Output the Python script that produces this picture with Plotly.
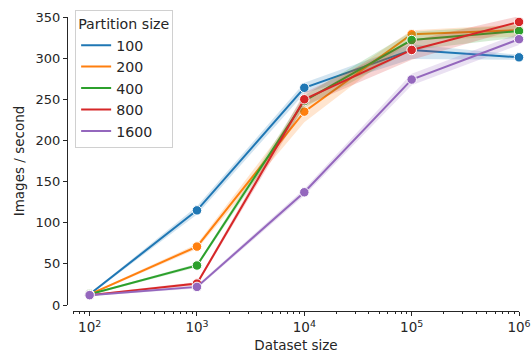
import plotly.graph_objects as go
import numpy as np

dataset_size = [100, 1000, 10000, 100000, 1000000]
partition_sizes = ["100", "200", "400", "800", "1600"]
colors = ["#1f77b4", "#ff7f0e", "#2ca02c", "#d62728", "#9467bd"]

mean_100 = [13, 115, 264, 310, 301]
lo_100 = [12, 110, 257, 299, 298]
hi_100 = [14, 120, 270, 317, 304]

mean_200 = [13, 71, 235, 329, 334]
lo_200 = [12, 68, 222, 322, 326]
hi_200 = [14, 74, 246, 334, 341]

mean_400 = [13, 48, 248, 322, 333]
lo_400 = [12, 46, 240, 310, 325]
hi_400 = [14, 50, 255, 332, 340]

mean_800 = [12, 26, 250, 310, 344]
lo_800 = [11, 24, 242, 298, 336]
hi_800 = [13, 28, 258, 321, 351]

mean_1600 = [12, 22, 137, 274, 323]
lo_1600 = [11, 20, 133, 267, 316]
hi_1600 = [13, 24, 141, 281, 330]

series = [
    (mean_100, lo_100, hi_100),
    (mean_200, lo_200, hi_200),
    (mean_400, lo_400, hi_400),
    (mean_800, lo_800, hi_800),
    (mean_1600, lo_1600, hi_1600),
]

x_tick_vals = [100, 1000, 10000, 100000, 1000000]
x_tick_text = ["10<sup>2</sup>", "10<sup>3</sup>", "10<sup>4</sup>", "10<sup>5</sup>", "10<sup>6</sup>"]
y_tick_vals = [0, 50, 100, 150, 200, 250, 300, 350]


def rgba(hexc, a):
    h = hexc.lstrip("#")
    r, g, b = int(h[0:2], 16), int(h[2:4], 16), int(h[4:6], 16)
    return f"rgba({r},{g},{b},{a})"


fig = go.Figure()
for name, col, (m, lo, hi) in zip(partition_sizes, colors, series):
    fig.add_trace(go.Scatter(
        x=dataset_size + dataset_size[::-1], y=hi + lo[::-1],
        fill="toself", fillcolor=rgba(col, 0.2), line=dict(width=0),
        mode="lines", hoverinfo="skip", showlegend=False, legendgroup=name,
    ))
    fig.add_trace(go.Scatter(
        x=dataset_size, y=m, mode="lines", name=name,
        line=dict(color=col, width=2), legendgroup=name,
    ))
    fig.add_trace(go.Scatter(
        x=dataset_size, y=m, mode="markers", showlegend=False, legendgroup=name,
        marker=dict(color=col, size=9.5, line=dict(color="white", width=1)),
        cliponaxis=False,
    ))

# minor ticks
minor_vals = []
for d in range(1, 6):
    for k in range(2, 10):
        v = k * 10 ** d
        if 70 <= v < 1000000:
            minor_vals.append(v)

axis_col = "#262626"
fig.update_layout(
    width=532, height=353,
    margin=dict(l=67, r=13, t=17, b=42, autoexpand=False),
    plot_bgcolor="white", paper_bgcolor="white",
    font=dict(family="DejaVu Sans", size=13, color=axis_col),
    xaxis=dict(
        type="log", range=[np.log10(70), 6], domain=[6 / 452, 1],
        anchor="free", position=0, automargin=False,
        showgrid=False, zeroline=False, showline=True, linecolor=axis_col, linewidth=1,
        ticks="outside", ticklen=4, tickcolor=axis_col,
        tickvals=x_tick_vals, ticktext=x_tick_text, tickfont=dict(size=13.5),
        ticklabeloverflow="allow",
        minor=dict(tickvals=minor_vals, ticks="outside", ticklen=2, tickcolor=axis_col, showgrid=False),
        title=dict(text="Dataset size", font=dict(size=13.5), standoff=7),
    ),
    yaxis=dict(
        range=[0, 350], domain=[6 / 294, 1],
        anchor="free", position=0, automargin=False,
        showgrid=False, zeroline=False, showline=True, linecolor=axis_col, linewidth=1,
        ticks="outside", ticklen=4, tickcolor=axis_col,
        tickvals=y_tick_vals, tickfont=dict(size=13),
        title=dict(text="Images / second", font=dict(size=13.5), standoff=6),
    ),
    legend=dict(
        x=0.018, y=1.024, xanchor="left", yanchor="top",
        bgcolor="rgba(255,255,255,0.85)", bordercolor="#d0d0d0", borderwidth=1,
        title=dict(text="Partition size", font=dict(size=14.2)),
        font=dict(size=14.2), tracegroupgap=0, itemwidth=30,
    ),
)

fig.write_html("out.html", config={"displayModeBar": False},
               post_script="document.body.style.margin='0';")
